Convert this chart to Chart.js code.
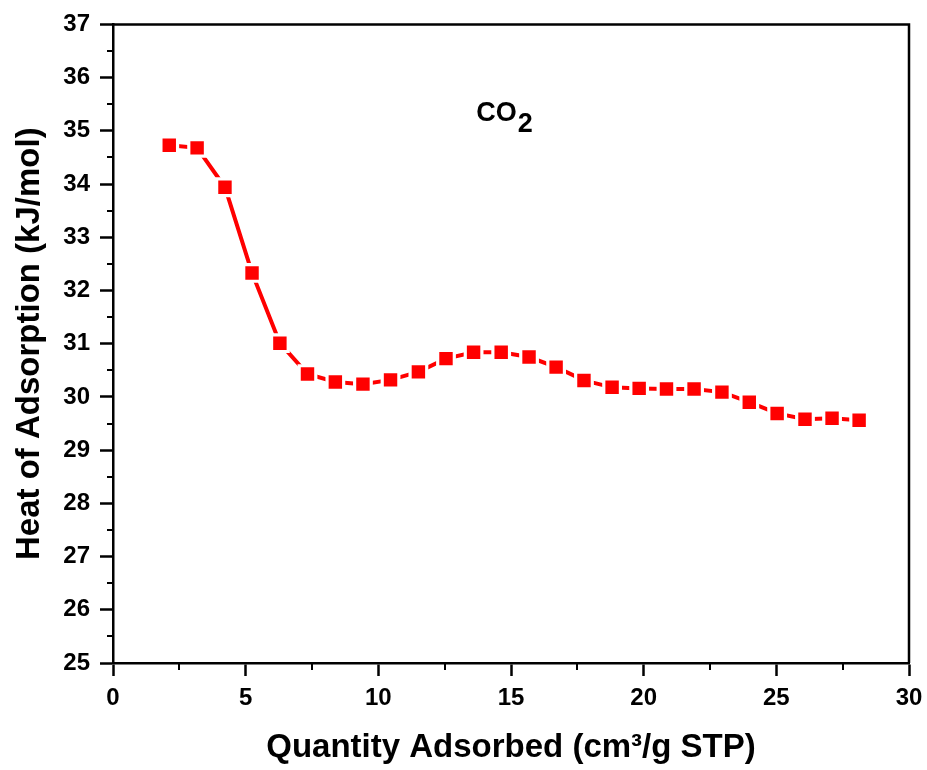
<!DOCTYPE html>
<html>
<head>
<meta charset="utf-8">
<script src="https://cdn.jsdelivr.net/npm/chart.js@4"></script>
<style>
  html, body { margin: 0; padding: 0; background: #fff; }
  #wrap { width: 927px; height: 770px; position: relative; }
</style>
</head>
<body>
<div id="wrap"><canvas id="chart" width="927" height="770"></canvas></div>
<script>
// values
const quantity = [2.12, 3.17, 4.22, 5.24, 6.29, 7.33, 8.38, 9.42, 10.46, 11.51, 12.55, 13.59, 14.63,
  15.68, 16.70, 17.75, 18.81, 19.83, 20.86, 21.90, 22.95, 23.98, 25.03, 26.08, 27.10, 28.12];
const heat = [34.73, 34.68, 33.94, 32.33, 31.01, 30.43, 30.28, 30.24, 30.32, 30.47, 30.72, 30.84, 30.84,
  30.75, 30.56, 30.31, 30.18, 30.16, 30.15, 30.15, 30.09, 29.90, 29.69, 29.58, 29.60, 29.56];
const xTicks = [0, 5, 10, 15, 20, 25, 30];
const yTicks = [25, 26, 27, 28, 29, 30, 31, 32, 33, 34, 35, 36, 37];
const gasLabel = 'CO';
const gasSub = '2';
const gasPos = { x: 14.74, y: 35.18 };

const FONT = "'Liberation Sans', Arial, sans-serif";
const RED = '#ff0000';

const points = quantity.map((q, i) => ({ x: q, y: heat[i] }));

// box on top/right, minor ticks, CO2 label
const framePlugin = {
  id: 'frame',
  afterDraw(chart) {
    const { ctx, chartArea: a, scales } = chart;
    const xs = scales.x, ys = scales.y;
    ctx.save();
    ctx.strokeStyle = '#000';
    ctx.lineWidth = 2.5;
    ctx.beginPath();
    ctx.moveTo(a.left, a.top);
    ctx.lineTo(a.right, a.top);
    ctx.lineTo(a.right, a.bottom);
    ctx.stroke();

    ctx.lineWidth = 2;
    ctx.beginPath();
    for (let i = 0; i < yTicks.length - 1; i++) {
      const py = Math.round(ys.getPixelForValue((yTicks[i] + yTicks[i + 1]) / 2));
      ctx.moveTo(a.left, py);
      ctx.lineTo(a.left - 6, py);
    }
    for (let i = 0; i < xTicks.length - 1; i++) {
      const px = Math.round(xs.getPixelForValue((xTicks[i] + xTicks[i + 1]) / 2));
      ctx.moveTo(px, a.bottom);
      ctx.lineTo(px, a.bottom + 7);
    }
    ctx.stroke();

    const lx = xs.getPixelForValue(gasPos.x);
    const ly = ys.getPixelForValue(gasPos.y);
    ctx.fillStyle = '#000';
    ctx.textBaseline = 'alphabetic';
    ctx.font = 'bold 27px ' + FONT;
    const w = ctx.measureText(gasLabel).width;
    const w2 = ctx.measureText(gasSub).width;
    const start = lx - (w + w2) / 2;
    ctx.fillText(gasLabel, start, ly);
    ctx.fillText(gasSub, start + w + 1, ly + 11);
    ctx.restore();
  }
};

new Chart(document.getElementById('chart'), {
  type: 'scatter',
  data: {
    datasets: [
      {
        // markers on top
        data: points,
        showLine: false,
        pointStyle: 'rect',
        pointRadius: 9.5,
        pointHoverRadius: 9.5,
        pointBackgroundColor: RED,
        pointBorderWidth: 0,
        order: 0
      },
      {
        // connecting line with a white gap round each marker
        data: points,
        showLine: true,
        borderColor: RED,
        borderWidth: 4,
        tension: 0,
        pointStyle: 'rect',
        pointRadius: 14,
        pointHoverRadius: 14,
        pointBackgroundColor: '#fff',
        pointBorderWidth: 0,
        order: 1
      }
    ]
  },
  options: {
    responsive: false,
    animation: false,
    events: [],
    layout: { padding: { left: 0, top: 24, right: 18, bottom: 0 } },
    plugins: { legend: { display: false }, tooltip: { enabled: false } },
    scales: {
      x: {
        type: 'linear',
        min: 0, max: 30,
        afterBuildTicks: s => { s.ticks = xTicks.map(v => ({ value: v })); },
        afterFit: s => { s.height = 107; s.paddingLeft = 0; s.paddingRight = 0; },
        grid: { drawOnChartArea: false, tickLength: 13, tickWidth: 2.5, tickColor: '#000' },
        border: { display: true, color: '#000', width: 2.5 },
        ticks: { color: '#000', font: { family: FONT, size: 24, weight: 'bold' }, padding: 8, maxRotation: 0 },
        title: {
          display: true,
          text: 'Quantity Adsorbed (cm³/g STP)',
          color: '#000',
          font: { family: FONT, size: 33, weight: 'bold' },
          padding: { top: 0, bottom: 2 }
        }
      },
      y: {
        type: 'linear',
        min: 25, max: 37,
        afterBuildTicks: s => { s.ticks = yTicks.map(v => ({ value: v })); },
        afterFit: s => { s.width = 113; },
        grid: { drawOnChartArea: false, tickLength: 13, tickWidth: 2.5, tickColor: '#000' },
        border: { display: true, color: '#000', width: 2.5 },
        ticks: { color: '#000', font: { family: FONT, size: 24, weight: 'bold' }, padding: 10 },
        title: {
          display: true,
          text: 'Heat of Adsorption (kJ/mol)',
          color: '#000',
          font: { family: FONT, size: 33, weight: 'bold' },
          padding: { top: 10, bottom: 0 }
        }
      }
    }
  },
  plugins: [framePlugin]
});
</script>
</body>
</html>
